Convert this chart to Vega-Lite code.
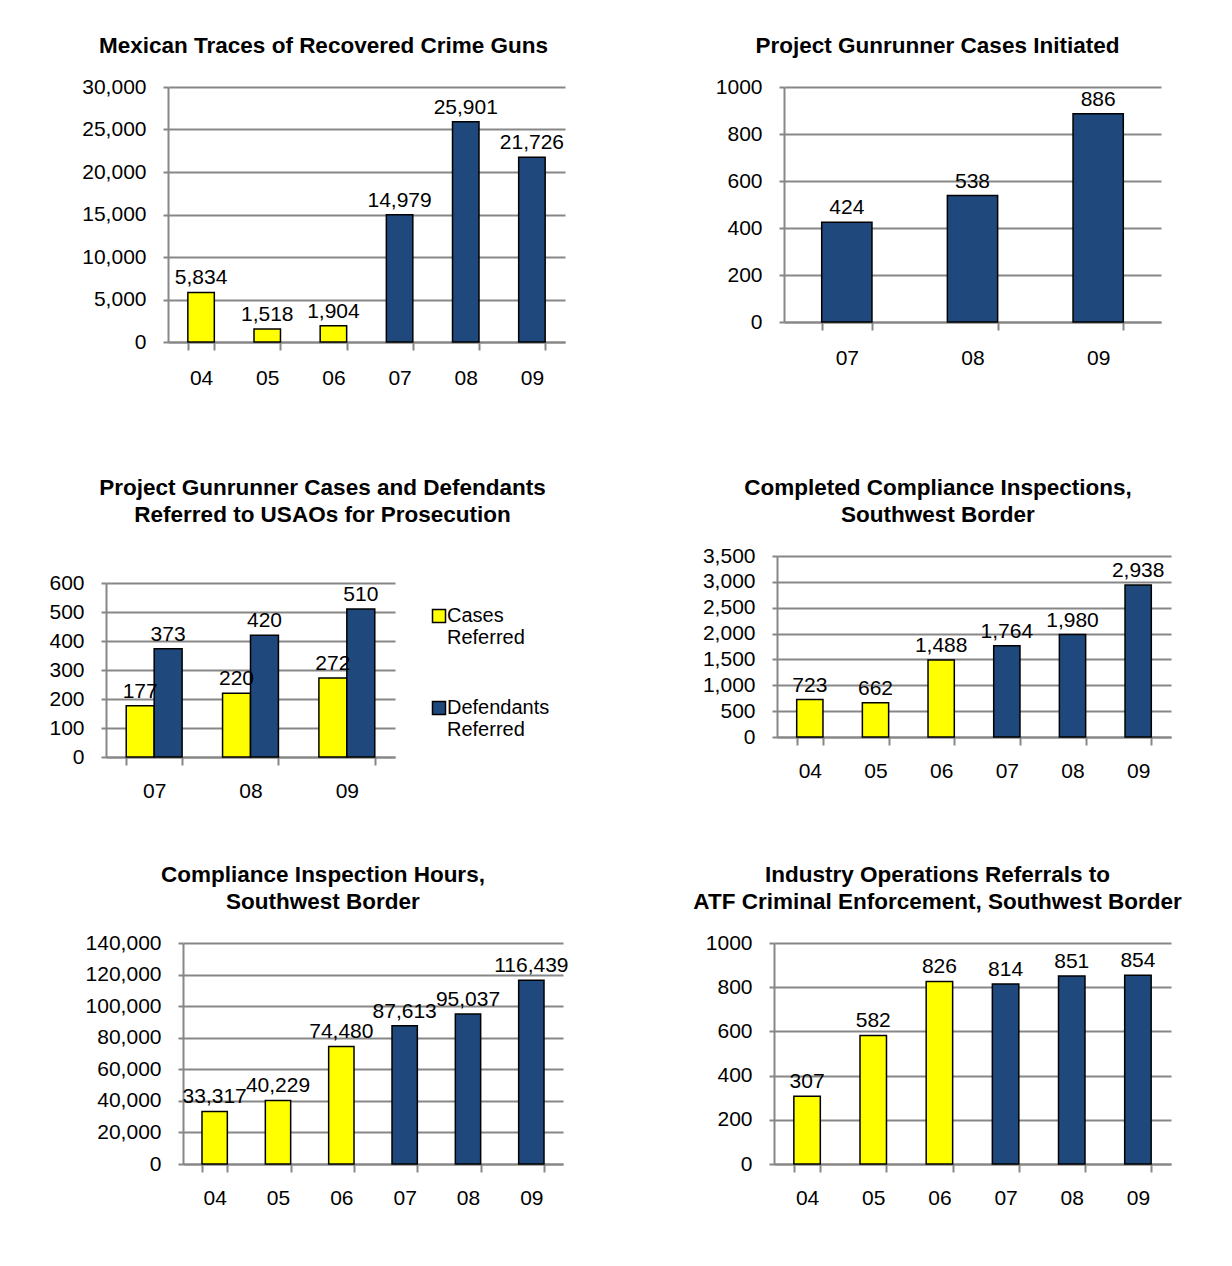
{
  "$schema": "https://vega.github.io/schema/vega-lite/v6.json",
  "padding": {"left": 27, "top": 34, "right": 0, "bottom": 0},
  "background": "white",
  "config": {
    "view": {"stroke": null},
    "font": "Liberation Sans",
    "axis": {"labelFont": "Liberation Sans", "labelFontSize": 21, "labelColor": "black", "domainColor": "#878787", "domainWidth": 2, "tickColor": "#878787", "tickWidth": 2, "gridColor": "#878787", "gridWidth": 2},
    "axisX": {"grid": false, "labelAngle": 0, "tickBand": "extent", "tickSize": 8, "labelPadding": 15},
    "axisY": {"grid": true, "tickSize": 5, "labelPadding": 17},
    "title": {"font": "Liberation Sans", "fontSize": 22.5, "fontWeight": "bold", "color": "black", "frame": "group", "offset": 19, "lineHeight": 27},
    "text": {"font": "Liberation Sans", "fontSize": 21, "color": "black"},
    "bar": {"stroke": "black", "strokeWidth": 1.5}
  },
  "resolve": {"scale": {"fill": "independent"}, "legend": {"fill": "independent"}},
  "align": "none",
  "columns": 3,
  "spacing": {"row": 20, "column": 20},
  "concat": [
    {"width": 1, "height": 1, "data": {"values": []}, "mark": "point"},
    {
      "width": 397, "height": 255,
      "title": {"text": "Mexican Traces of Recovered Crime Guns", "dx": -43},
      "data": {"values": [
        {"year": "04", "value": 5834, "period": "2004-2006"},
        {"year": "05", "value": 1518, "period": "2004-2006"},
        {"year": "06", "value": 1904, "period": "2004-2006"},
        {"year": "07", "value": 14979, "period": "2007-2009"},
        {"year": "08", "value": 25901, "period": "2007-2009"},
        {"year": "09", "value": 21726, "period": "2007-2009"}
      ]},
      "encoding": {
        "x": {"field": "year", "type": "ordinal", "title": null, "scale": {"paddingInner": 0.6, "paddingOuter": 0.3}, "axis": {"minExtent": 114, "labelPadding": 17}},
        "y": {"field": "value", "type": "quantitative", "title": null, "scale": {"domain": [0, 30000]}, "axis": {"values": [0, 5000, 10000, 15000, 20000, 25000, 30000], "format": ",d", "minExtent": 120}}
      },
      "layer": [
        {"mark": {"type": "bar"}, "encoding": {"fill": {"field": "period", "type": "nominal", "scale": {"domain": ["2004-2006", "2007-2009"], "range": ["#FFFF00", "#1F497D"]}, "legend": null}}},
        {"mark": {"type": "text", "baseline": "alphabetic", "dy": -8}, "encoding": {"text": {"field": "value", "type": "quantitative", "format": ","}}}
      ]
    },
    {
      "width": 377, "height": 235,
      "title": {"text": "Project Gunrunner Cases Initiated", "dx": -35},
      "data": {"values": [
        {"year": "07", "value": 424, "period": "2007-2009"},
        {"year": "08", "value": 538, "period": "2007-2009"},
        {"year": "09", "value": 886, "period": "2007-2009"}
      ]},
      "encoding": {
        "x": {"field": "year", "type": "ordinal", "title": null, "scale": {"paddingInner": 0.6, "paddingOuter": 0.3}, "axis": {"labelPadding": 17}},
        "y": {"field": "value", "type": "quantitative", "title": null, "scale": {"domain": [0, 1000]}, "axis": {"values": [0, 200, 400, 600, 800, 1000], "format": "d", "minExtent": 152}}
      },
      "layer": [
        {"mark": {"type": "bar"}, "encoding": {"fill": {"field": "period", "type": "nominal", "scale": {"domain": ["2004-2006", "2007-2009"], "range": ["#FFFF00", "#1F497D"]}, "legend": null}}},
        {"mark": {"type": "text", "baseline": "alphabetic", "dy": -8}, "encoding": {"text": {"field": "value", "type": "quantitative", "format": "d"}}}
      ]
    },
    {"width": 1, "height": 1, "data": {"values": []}, "mark": "point"},
    {
      "width": 289, "height": 174,
      "title": {"text": ["Project Gunrunner Cases and Defendants", "Referred to USAOs for Prosecution"], "dx": 72, "offset": 46},
      "data": {"values": [
        {"year": "07", "series": "Cases Referred", "value": 177},
        {"year": "07", "series": "Defendants Referred", "value": 373},
        {"year": "08", "series": "Cases Referred", "value": 220},
        {"year": "08", "series": "Defendants Referred", "value": 420},
        {"year": "09", "series": "Cases Referred", "value": 272},
        {"year": "09", "series": "Defendants Referred", "value": 510}
      ]},
      "encoding": {
        "x": {"field": "year", "type": "ordinal", "title": null, "scale": {"paddingInner": 0.42, "paddingOuter": 0.21}, "axis": {"minExtent": 86}},
        "xOffset": {"field": "series", "type": "nominal", "scale": {"paddingInner": 0, "paddingOuter": 0}},
        "y": {"field": "value", "type": "quantitative", "title": null, "scale": {"domain": [0, 600]}, "axis": {"values": [0, 100, 200, 300, 400, 500, 600], "format": "d", "minExtent": 58}}
      },
      "layer": [
        {"mark": {"type": "bar"}, "encoding": {"fill": {"field": "series", "type": "nominal", "scale": {"domain": ["Cases Referred", "Defendants Referred"], "range": ["#FFFF00", "#1F497D"]}, "legend": {"orient": "none", "legendX": 323, "legendY": 23, "title": null, "padding": 0, "symbolType": "square", "symbolSize": 169, "symbolStrokeColor": "black", "symbolStrokeWidth": 1.5, "labelFont": "Liberation Sans", "labelFontSize": 20, "labelColor": "black", "labelLimit": 0, "labelExpr": "split(datum.label, ' ')", "labelBaseline": "middle", "rowPadding": 50, "labelOffset": -2}}}},
        {"mark": {"type": "text", "baseline": "alphabetic", "dy": -8}, "encoding": {"text": {"field": "value", "type": "quantitative", "format": "d"}}}
      ]
    },
    {
      "width": 394, "height": 181,
      "title": {"text": ["Completed Compliance Inspections,", "Southwest Border"], "dx": -36},
      "data": {"values": [
        {"year": "04", "value": 723, "period": "2004-2006"},
        {"year": "05", "value": 662, "period": "2004-2006"},
        {"year": "06", "value": 1488, "period": "2004-2006"},
        {"year": "07", "value": 1764, "period": "2007-2009"},
        {"year": "08", "value": 1980, "period": "2007-2009"},
        {"year": "09", "value": 2938, "period": "2007-2009"}
      ]},
      "encoding": {
        "x": {"field": "year", "type": "ordinal", "title": null, "scale": {"paddingInner": 0.6, "paddingOuter": 0.3}},
        "y": {"field": "value", "type": "quantitative", "title": null, "scale": {"domain": [0, 3500]}, "axis": {"values": [0, 500, 1000, 1500, 2000, 2500, 3000, 3500], "format": ",d", "minExtent": 207}}
      },
      "layer": [
        {"mark": {"type": "bar"}, "encoding": {"fill": {"field": "period", "type": "nominal", "scale": {"domain": ["2004-2006", "2007-2009"], "range": ["#FFFF00", "#1F497D"]}, "legend": null}}},
        {"mark": {"type": "text", "baseline": "alphabetic", "dy": -8}, "encoding": {"text": {"field": "value", "type": "quantitative", "format": ","}}}
      ]
    },
    {"width": 1, "height": 1, "data": {"values": []}, "mark": "point"},
    {
      "width": 380, "height": 221,
      "title": {"text": ["Compliance Inspection Hours,", "Southwest Border"], "dx": -50},
      "data": {"values": [
        {"year": "04", "value": 33317, "period": "2004-2006"},
        {"year": "05", "value": 40229, "period": "2004-2006"},
        {"year": "06", "value": 74480, "period": "2004-2006"},
        {"year": "07", "value": 87613, "period": "2007-2009"},
        {"year": "08", "value": 95037, "period": "2007-2009"},
        {"year": "09", "value": 116439, "period": "2007-2009"}
      ]},
      "encoding": {
        "x": {"field": "year", "type": "ordinal", "title": null, "scale": {"paddingInner": 0.6, "paddingOuter": 0.3}},
        "y": {"field": "value", "type": "quantitative", "title": null, "scale": {"domain": [0, 140000]}, "axis": {"values": [0, 20000, 40000, 60000, 80000, 100000, 120000, 140000], "format": ",d", "minExtent": 135}}
      },
      "layer": [
        {"mark": {"type": "bar"}, "encoding": {"fill": {"field": "period", "type": "nominal", "scale": {"domain": ["2004-2006", "2007-2009"], "range": ["#FFFF00", "#1F497D"]}, "legend": null}}},
        {"mark": {"type": "text", "baseline": "alphabetic", "dy": -8}, "encoding": {"text": {"field": "value", "type": "quantitative", "format": ","}}}
      ]
    },
    {
      "width": 397, "height": 221,
      "title": {"text": ["", "Industry Operations Referrals to", "ATF Criminal Enforcement, Southwest Border"], "dx": -35},
      "data": {"values": [
        {"year": "04", "value": 307, "period": "2004-2006"},
        {"year": "05", "value": 582, "period": "2004-2006"},
        {"year": "06", "value": 826, "period": "2004-2006"},
        {"year": "07", "value": 814, "period": "2007-2009"},
        {"year": "08", "value": 851, "period": "2007-2009"},
        {"year": "09", "value": 854, "period": "2007-2009"}
      ]},
      "encoding": {
        "x": {"field": "year", "type": "ordinal", "title": null, "scale": {"paddingInner": 0.6, "paddingOuter": 0.3}},
        "y": {"field": "value", "type": "quantitative", "title": null, "scale": {"domain": [0, 1000]}, "axis": {"values": [0, 200, 400, 600, 800, 1000], "format": "d", "minExtent": 127}}
      },
      "layer": [
        {"mark": {"type": "bar"}, "encoding": {"fill": {"field": "period", "type": "nominal", "scale": {"domain": ["2004-2006", "2007-2009"], "range": ["#FFFF00", "#1F497D"]}, "legend": null}}},
        {"mark": {"type": "text", "baseline": "alphabetic", "dy": -8}, "encoding": {"text": {"field": "value", "type": "quantitative", "format": "d"}}}
      ]
    }
  ]
}
